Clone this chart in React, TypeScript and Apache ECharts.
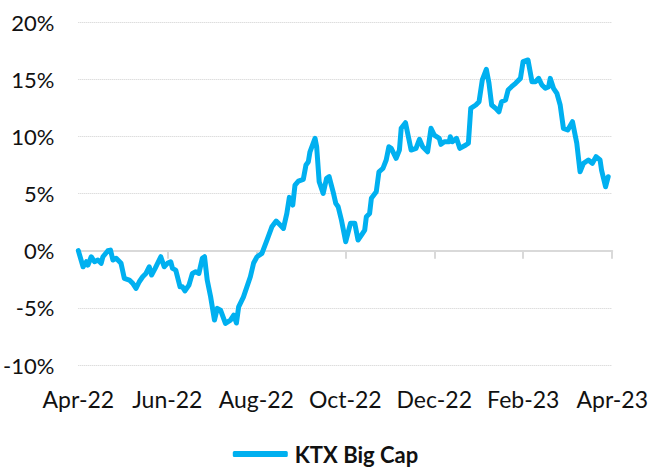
import React, { useEffect, useRef } from "react";
import * as echarts from "echarts";

// x position measured in "days" on a 360-unit year (60 units = 2 months), starting Apr-22
const days = [
  0, 3.2, 5.4, 6.5, 8.7, 10.9, 13.2, 15.4, 16.6, 19.9, 21.7, 23.3, 25.5, 28.8, 31.0, 34.4, 36.7, 38.9, 41.1, 43.4,
  45.6, 47.8, 49.4, 51.8, 55.6, 57.9, 60.1, 62.3, 63.5, 65.7, 68.6, 70.2, 71.9, 74.6, 76.9, 79.1, 81.3, 83.6, 85.1, 86.9,
  89.2, 91.8, 93.7, 95.9, 99.2, 102.6, 104.8, 106.6, 108.1, 111.3, 116.0, 118.2, 120.5, 123.8, 127.2, 130.5, 133.4, 136.1, 138.3, 140.6,
  142.3, 144.6, 146.1, 148.4, 151.7, 153.5, 155.1, 156.2, 159.6, 160.7, 162.4, 165.1, 167.4, 169.1, 171.8, 173.6, 175.2, 177.4, 180.3, 183.5,
  186.4, 188.6, 190.9, 193.1, 194.2, 196.4, 197.6, 200.9, 202.7, 205.4, 207.6, 209.4, 211.0, 214.3, 216.5, 217.7, 220.6, 224.4, 227.7, 230.0,
  232.2, 235.5, 237.8, 240.0, 243.4, 244.5, 246.8, 250.1, 250.8, 252.3, 255.0, 257.2, 261.3, 263.0, 264.6, 268.0, 270.2, 272.4, 275.1, 276.9,
  278.7, 281.4, 283.6, 285.4, 288.1, 289.8, 292.1, 294.8, 298.1, 299.9, 303.2, 305.9, 308.2, 310.4, 312.6, 314.9, 317.1, 318.2, 320.4, 322.7,
  324.9, 327.1, 330.0, 333.2, 336.1, 338.3, 340.6, 343.9, 346.6, 349.1, 351.8, 352.8, 355.5, 357.3,
];

const values = [
  0.0, -1.41, -0.97, -1.26, -0.53, -0.97, -0.82, -1.11, -0.53, -0.01, 0.05, -0.82, -0.67, -1.11, -2.42, -2.57, -2.86, -3.3, -2.72, -2.28,
  -1.99, -1.41, -2.13, -1.55, -0.53, -1.41, -1.11, -0.97, -1.55, -1.7, -3.16, -3.16, -3.51, -3.01, -1.99, -1.85, -1.99, -0.67, -0.53, -2.57,
  -4.03, -6.07, -5.05, -5.2, -6.36, -6.07, -5.63, -6.33, -4.91, -4.06, -2.28, -1.08, -0.53, -0.24, 0.93, 2.09, 2.59, 2.24, 1.95, 3.26,
  4.66, 3.99, 5.74, 6.09, 6.24, 7.49, 7.78, 8.65, 9.83, 9.09, 6.03, 5.01, 6.33, 6.47, 5.15, 4.14, 3.84, 2.68, 0.78, 2.39,
  2.39, 0.93, 1.36, 1.8, 2.97, 3.26, 4.58, 5.15, 6.9, 7.2, 7.93, 9.09, 8.95, 8.08, 8.8, 10.7, 11.19, 8.8, 8.95, 9.74,
  9.09, 8.65, 10.7, 10.11, 9.83, 9.3, 9.53, 9.53, 9.97, 9.53, 9.83, 8.95, 9.24, 9.39, 12.45, 12.74, 13.03, 14.93, 15.86, 14.64,
  12.74, 12.45, 12.15, 13.03, 13.18, 14.05, 14.34, 14.64, 15.07, 16.53, 16.68, 14.78, 14.78, 15.07, 14.49, 14.2, 14.34, 15.07, 14.2, 13.76,
  12.74, 10.7, 10.55, 11.28, 9.39, 6.9, 7.64, 7.93, 7.64, 8.22, 7.93, 7.05, 5.59, 6.47,
];

const tickLabels = ["Apr-22", "Jun-22", "Aug-22", "Oct-22", "Dec-22", "Feb-23", "Apr-23"];
const seriesName = "KTX Big Cap";

const FONT = "Lato, Carlito, 'Noto Sans', sans-serif";

export default function App() {
  const ref = useRef<HTMLDivElement>(null);

  useEffect(() => {
    if (!ref.current) return;
    const chart = echarts.init(ref.current, undefined, { renderer: "svg" });
    const labelFmt = (v: number) => {
      const i = Math.round(v / 60);
      return tickLabels[i] ?? "";
    };
    chart.setOption({
      animation: false,
      textStyle: { fontFamily: FONT },
      grid: { left: 77, right: 37, top: 22, bottom: 103 },
      legend: {
        top: 442,
        left: "center",
        padding: 0,
        icon: "roundRect",
        itemWidth: 55,
        itemHeight: 6,
        itemGap: 10,
        textStyle: {
          fontFamily: FONT,
          fontSize: 22,
          lineHeight: 24,
          fontWeight: "bold",
          color: "#111",
          padding: [0, 0, 0, 2],
        },
        data: [{ name: seriesName, itemStyle: { color: "#00B0F0" } }],
      },
      xAxis: [
        {
          type: "value",
          min: 0,
          max: 360,
          interval: 60,
          axisLine: { onZero: true, lineStyle: { color: "#d9d9d9", width: 2 } },
          axisTick: { show: true, length: 8, lineStyle: { color: "#d9d9d9", width: 2 } },
          axisLabel: { show: false },
          splitLine: { show: false },
        },
        {
          type: "value",
          min: 0,
          max: 360,
          interval: 60,
          position: "bottom",
          axisLine: { show: false, onZero: false },
          axisTick: { show: false },
          splitLine: { show: false },
          axisLabel: {
            margin: 22,
            fontSize: 23,
            color: "#111",
            fontFamily: FONT,
            formatter: labelFmt,
          },
        },
      ],
      yAxis: {
        type: "value",
        min: -10,
        max: 20,
        interval: 5,
        axisLine: { show: false },
        axisTick: { show: false },
        axisLabel: {
          margin: 24,
          fontSize: 22,
          color: "#111",
          fontFamily: FONT,
          formatter: "{value}%",
        },
        splitLine: { show: true, lineStyle: { color: "#cfcfcf", type: "dotted", width: 1 } },
      },
      series: [
        {
          name: seriesName,
          type: "line",
          xAxisIndex: 0,
          data: days.map((d, i) => [d, values[i]]),
          showSymbol: false,
          symbol: "none",
          lineStyle: { color: "#00B0F0", width: 5, cap: "round", join: "round" },
          itemStyle: { color: "#00B0F0" },
        },
      ],
    });
    return () => chart.dispose();
  }, []);

  return (
    <div
      ref={ref}
      style={{ position: "absolute", left: 0, top: 0, width: 651, height: 468 }}
    />
  );
}
